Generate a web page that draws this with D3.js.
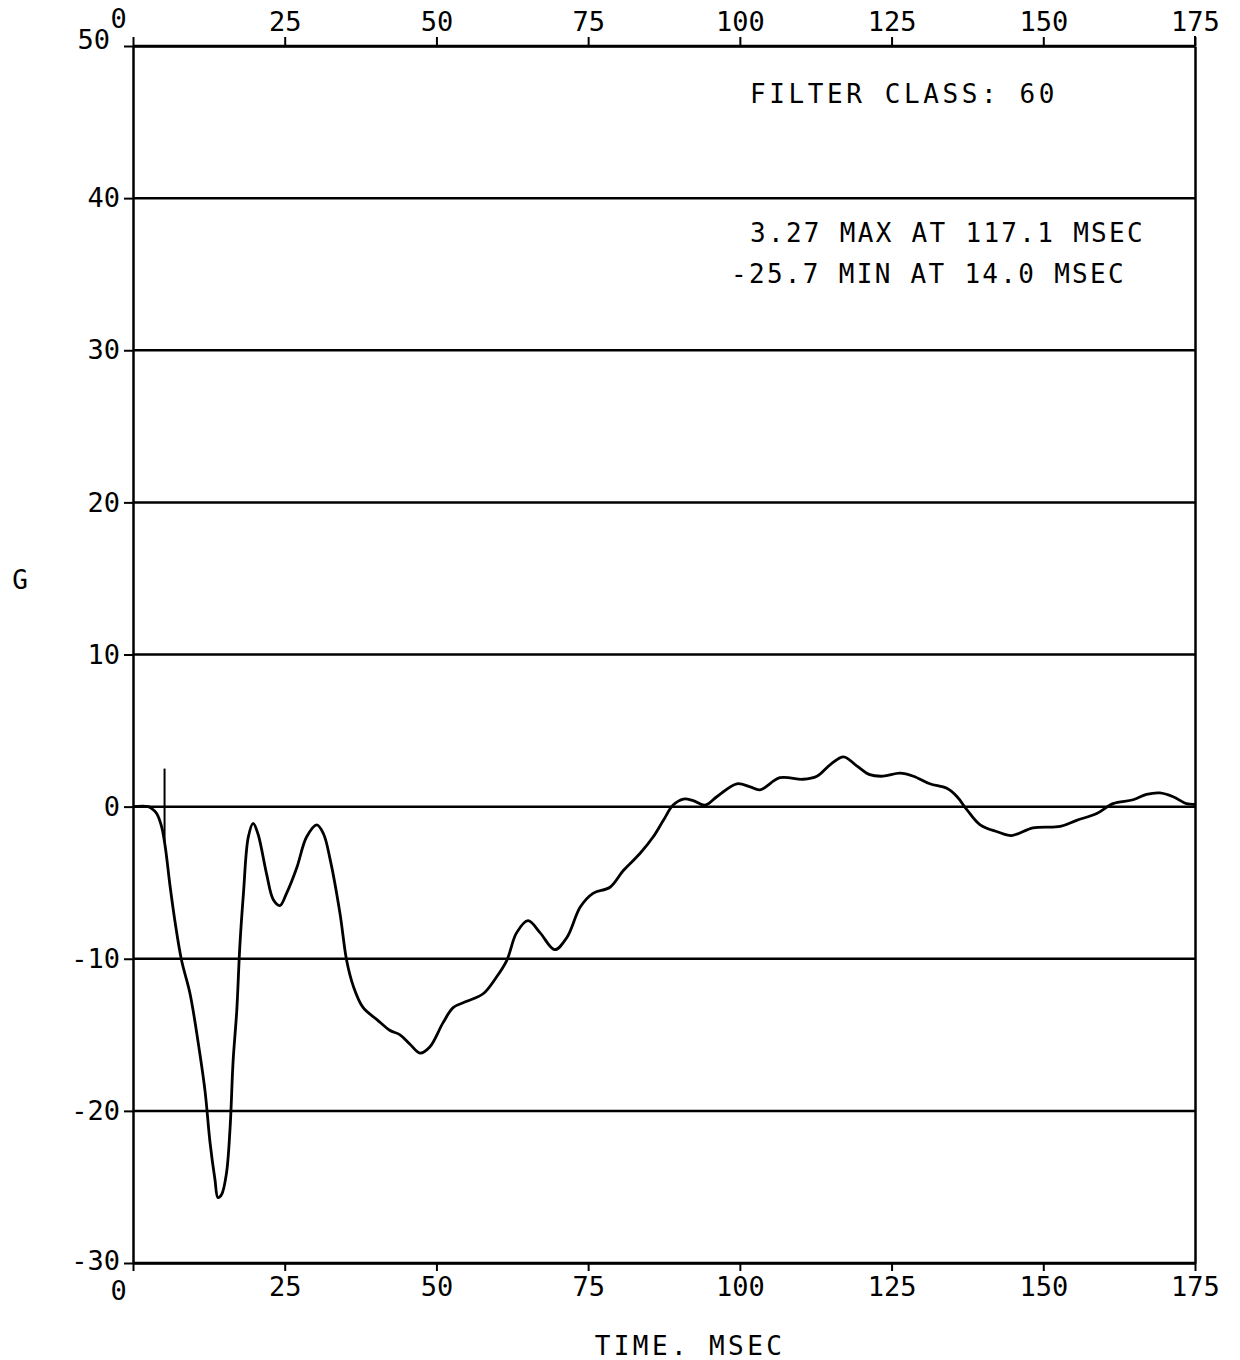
<!DOCTYPE html>
<html>
<head>
<meta charset="utf-8">
<script src="https://cdn.jsdelivr.net/npm/d3@7"></script>
<style>
  body { margin: 0; background: #fff; }
  svg { display: block; }
  text { font-family: "DejaVu Sans Mono", monospace; fill: #000; }
</style>
</head>
<body>
<svg id="chart" width="1240" height="1360"></svg>
<script>
const timeMs = [0, 2.5, 3.0, 3.9, 4.7, 5.3, 6.1, 6.9, 8.0, 9.4, 11.0, 11.9, 12.7, 13.5, 14.0, 14.6, 15.4, 16.0, 16.5, 17.1, 17.6, 18.2, 19.0, 19.8, 20.6, 22.0, 23.1, 24.2, 25.3, 27.0, 28.6, 30.3, 31.4, 32.5, 34.1, 35.2, 36.3, 37.9, 40.2, 42.3, 44.0, 45.6, 47.3, 48.9, 51.1, 52.8, 55.0, 57.7, 59.9, 61.6, 63.2, 65.1, 67.1, 69.5, 71.5, 73.7, 75.8, 78.6, 80.8, 83.5, 85.7, 87.4, 89.0, 90.7, 92.3, 94.3, 96.2, 99.5, 101.7, 103.3, 106.6, 110.4, 112.7, 115.0, 117.1, 119.2, 121.4, 123.6, 126.4, 128.6, 131.3, 134.1, 135.8, 137.4, 139.6, 142.4, 144.8, 148.3, 152.8, 155.5, 158.8, 161.5, 164.8, 167.0, 169.2, 171.4, 173.6, 175.0];
const accelG = [0, 0, -0.1, -0.45, -1.3, -2.6, -5.2, -7.5, -10.1, -12.3, -16.2, -18.8, -22.1, -24.5, -25.7, -25.5, -24.1, -21.1, -16.7, -13.4, -9.2, -5.7, -2.0, -1.1, -1.8, -4.4, -6.1, -6.5, -5.7, -4.0, -2.0, -1.2, -1.8, -3.5, -7.0, -10.1, -11.8, -13.2, -14.0, -14.7, -15.0, -15.6, -16.2, -15.8, -14.2, -13.2, -12.8, -12.3, -11.2, -10.1, -8.3, -7.5, -8.3, -9.4, -8.6, -6.6, -5.7, -5.3, -4.2, -3.1, -2.0, -0.9, 0.1, 0.5, 0.4, 0.1, 0.65, 1.5, 1.3, 1.1, 1.9, 1.8, 2.0, 2.8, 3.27, 2.7, 2.1, 2.0, 2.2, 2.0, 1.5, 1.2, 0.65, -0.2, -1.2, -1.65, -1.9, -1.4, -1.3, -0.9, -0.45, 0.2, 0.45, 0.8, 0.9, 0.65, 0.2, 0.15];

const xTicks = [0, 25, 50, 75, 100, 125, 150, 175];
const yTicks = [-30, -20, -10, 0, 10, 20, 30, 40, 50];
const markerT = [5.2];
const markerG = [2.5, -2.3];
const annotations = ["FILTER CLASS: 60", "3.27 MAX AT 117.1 MSEC", "-25.7 MIN AT 14.0 MSEC"];
const xTitle = "TIME. MSEC";
const yTitle = "G";

const svg = d3.select("#chart");
const L = 133, R = 1195, T = 46, B = 1263;
const x = d3.scaleLinear().domain([0, 175]).range([L, R]);
const y = d3.scaleLinear().domain([-30, 50]).range([B, T]);
const fmt = d => String(d);

// gridlines
svg.append("g").selectAll("line").data(yTicks).join("line")
  .attr("x1", L).attr("x2", R)
  .attr("y1", d => y(d)).attr("y2", d => y(d))
  .attr("stroke", "#000").attr("stroke-width", 2.5);

// axes
function styleAxis(g) {
  g.select(".domain").attr("stroke", "#000").attr("stroke-width", 2.5);
  g.selectAll(".tick line").attr("stroke", "#000").attr("stroke-width", 2);
  g.selectAll(".tick text").attr("font-family", "DejaVu Sans Mono, monospace")
    .attr("font-size", 27).attr("fill", "#000");
}
const axTop = svg.append("g").attr("transform", `translate(0,${T})`)
  .call(d3.axisTop(x).tickValues(xTicks).tickSize(9).tickSizeOuter(0).tickPadding(6).tickFormat(fmt))
  .call(styleAxis);
const axBottom = svg.append("g").attr("transform", `translate(0,${B})`)
  .call(d3.axisBottom(x).tickValues(xTicks).tickSize(8).tickSizeOuter(0).tickPadding(6).tickFormat(fmt))
  .call(styleAxis);
[axTop, axBottom].forEach(g => g.selectAll(".tick text").filter(d => d === 0).attr("dx", -15));
axTop.selectAll(".tick text").filter(d => d === 0).attr("dy", -3);
axBottom.selectAll(".tick text").filter(d => d === 0).attr("dy", "0.85em");

const axLeft = svg.append("g").attr("transform", `translate(${L},0)`)
  .call(d3.axisLeft(y).tickValues(yTicks).tickSize(9).tickSizeOuter(0).tickPadding(4).tickFormat(fmt))
  .call(styleAxis);
axLeft.selectAll(".tick text").filter(d => d === 50).attr("dx", -10).attr("dy", "0.1em");
axLeft.selectAll(".tick text").filter(d => d === -30).attr("dy", "0.25em");
svg.append("g").attr("transform", `translate(${R},0)`)
  .call(d3.axisRight(y).tickValues([]).tickSizeOuter(0))
  .call(styleAxis);
svg.append("line").attr("x1", R).attr("x2", R).attr("y1", T - 10).attr("y2", T)
  .attr("stroke", "#000").attr("stroke-width", 2);

// data curve
const pts = timeMs.map((t, i) => [t, accelG[i]]);
svg.append("path").datum(pts)
  .attr("fill", "none").attr("stroke", "#000").attr("stroke-width", 2.8)
  .attr("stroke-linejoin", "round")
  .attr("d", d3.line().x(d => x(d[0])).y(d => y(d[1])).curve(d3.curveCatmullRom.alpha(0.5)));

// marker line
svg.append("line")
  .attr("x1", x(markerT[0])).attr("x2", x(markerT[0]))
  .attr("y1", y(markerG[0])).attr("y2", y(markerG[1]))
  .attr("stroke", "#000").attr("stroke-width", 2);

// annotations
svg.append("text").attr("x", 750).attr("y", 103).attr("font-size", 26)
  .attr("letter-spacing", 3.6).text(annotations[0]);
svg.append("text").attr("x", 750).attr("y", 242).attr("font-size", 26)
  .attr("letter-spacing", 2.3).text(annotations[1]);
svg.append("text").attr("x", 731).attr("y", 283).attr("font-size", 26)
  .attr("letter-spacing", 2.3).text(annotations[2]);

// titles
svg.append("text").attr("x", 690).attr("y", 1355).attr("text-anchor", "middle")
  .attr("font-size", 26).attr("letter-spacing", 3.4).text(xTitle);
svg.append("text").attr("x", 20).attr("y", 589).attr("text-anchor", "middle")
  .attr("font-size", 26).text(yTitle);
</script>
</body>
</html>
